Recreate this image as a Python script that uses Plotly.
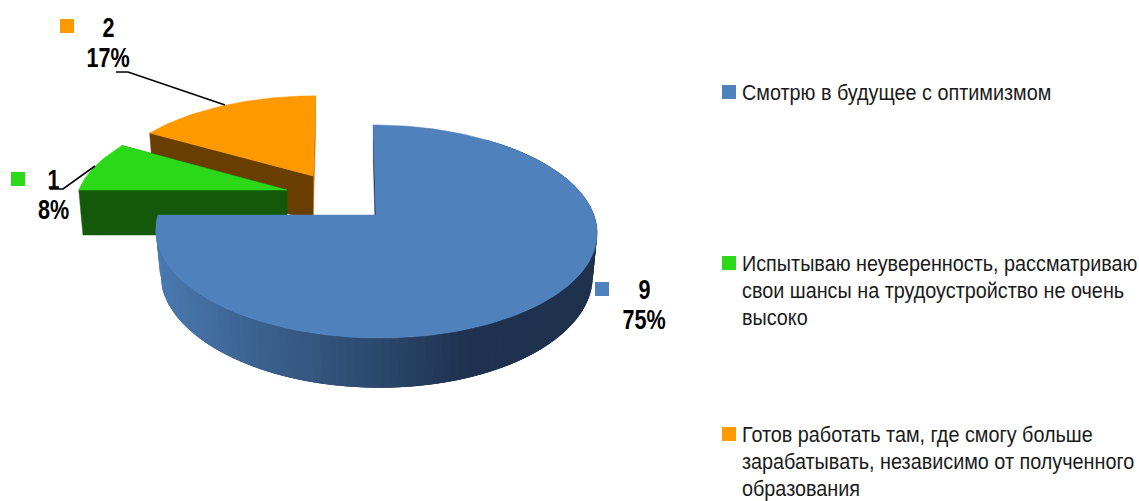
import numpy as np
import plotly.graph_objects as go

categories = [["Смотрю в будущее с оптимизмом"],
              ["Испытываю неуверенность, рассматриваю", "свои шансы на трудоустройство не очень", "высоко"],
              ["Готов работать там, где смогу больше", "зарабатывать, независимо от полученного", "образования"]]
values = [9, 1, 2]
top_colors = ["#4f81bd", "#2cd918", "#ff9900"]
front_wall_colors = ["#1f3350", "#14590a", "#6a3d00"]
back_wall_colors = ["#1f3350", "#14590a", "#c47c08"]

# layout of the drawing (pixel space)
W, H = 1139, 501
apex = [(376, 215), (287, 190), (313, 176)]
scale_x = [1.0, 0.955, 0.94]
scale_y = [1.0, 0.92, 0.89]
depth = [42.0, 45.0, 45.0]
legend_y = [92, 263, 434]
label_box = [(602, 289), (18, 179), (67, 26)]
label_xy = [(644, 290), (53, 180), (108, 28)]
leaders = [None, ([50, 63, 95], [189, 189, 166]), ([116, 128, 225], [72, 72, 105])]
R, h, k = 218.0, 104.0, 0.155
VANISH_X = 345.0
FONT = "Liberation Sans, Arial"
LEGEND_LINE = 27
LABEL_LINE = 30


def proj(f, r, z, i):
    t = 2 * np.pi * np.asarray(f, float)
    X, Y = r * np.sin(t), r * np.cos(t)
    w = 1 + k * Y
    lean = -(apex[i][0] - VANISH_X) * 0.1
    shrink = 1 - 0.02 * z
    sx = apex[i][0] + scale_x[i] * (R * X + lean * Y) / w * shrink
    sy = apex[i][1] + (-scale_y[i] * h * Y + depth[i] * z) / w
    return sx, sy


def poly(fig, xs, ys, color, lw=0.5):
    fig.add_trace(go.Scatter(x=list(xs) + [xs[0]], y=list(ys) + [ys[0]], mode="lines", fill="toself",
                             fillcolor=color, line=dict(color=color, width=lw),
                             hoverinfo="skip", showlegend=False))


def radial_wall(fig, f, i, color):
    a0 = proj(f, 0, 0, i); a1 = proj(f, 1, 0, i)
    b1 = proj(f, 1, 1, i); b0 = proj(f, 0, 1, i)
    poly(fig, [a0[0], a1[0], b1[0], b0[0]], [a0[1], a1[1], b1[1], b0[1]], color)


def lerp_color(stops, x):
    xs = [s[0] for s in stops]
    rgb = [float(np.interp(x, xs, [s[1][c] for s in stops])) for c in range(3)]
    return "rgb(%d,%d,%d)" % tuple(rgb)


wall_stops = [(157, (74, 122, 176)), (270, (58, 96, 141)), (380, (45, 73, 110)), (470, (31, 51, 80)), (600, (30, 50, 78))]

fig = go.Figure()
total = sum(values)
cum = np.cumsum([0] + values) / total
order = [2, 1, 0]
for i in order:
    f0, f1 = cum[i], cum[i + 1]
    fs = np.linspace(f0, f1, int(max(24, (f1 - f0) * 240)))
    if i == 0:
        # curved outer wall, shaded left to right; overlapped segments hide the seams
        wall = np.linspace(f0 + 0.1, f1, 120)
        for j in range(len(wall) - 1):
            seg = wall[j:j + 4]
            ax, ay = proj(seg, 1, 0, i)
            bx, by = proj(seg[::-1], 1, 1, i)
            poly(fig, list(ax) + list(bx), list(ay) + list(by), lerp_color(wall_stops, ax[0]), lw=0)
    radial_wall(fig, f1 if i else f0, i, back_wall_colors[i])
    if i:
        radial_wall(fig, f0, i, front_wall_colors[i])
    sx, sy = proj(fs, 1, 0, i)
    ox, oy = proj(0, 0, 0, i)
    poly(fig, [ox] + list(sx), [oy] + list(sy), top_colors[i])

# leader lines
for ld in leaders:
    if ld:
        fig.add_trace(go.Scatter(x=ld[0], y=ld[1], mode="lines", line=dict(color="black", width=1.6),
                                 hoverinfo="skip", showlegend=False))

# legend and label swatches
fig.add_trace(go.Scatter(x=[729] * 3, y=legend_y, mode="markers",
                         marker=dict(symbol="square", size=14, color=top_colors),
                         hoverinfo="skip", showlegend=False))
fig.add_trace(go.Scatter(x=[p[0] for p in label_box], y=[p[1] for p in label_box], mode="markers",
                         marker=dict(symbol="square", size=14, color=top_colors),
                         hoverinfo="skip", showlegend=False))

anns = []
for i, lines in enumerate(categories):
    for n, line in enumerate(lines):
        anns.append(dict(x=739.5, y=legend_y[i] + n * LEGEND_LINE, text=line, showarrow=False, xanchor="left",
                         yanchor="middle", align="left", font=dict(family=FONT, size=22.5, color="#1a1a1a")))
    pct = round(100 * values[i] / total)
    for n, line in enumerate([str(values[i]), f"{pct}%"]):
        anns.append(dict(x=label_xy[i][0], y=label_xy[i][1] + n * LABEL_LINE, text=f"<b>{line}</b>", showarrow=False,
                         xanchor="center", yanchor="middle", align="center",
                         font=dict(family=FONT, size=27, color="black")))

fig.update_layout(width=W, height=H, margin=dict(l=0, r=0, t=0, b=0), paper_bgcolor="white", plot_bgcolor="white",
                  xaxis=dict(range=[0, W], visible=False, fixedrange=True),
                  yaxis=dict(range=[H, 0], visible=False, fixedrange=True),
                  annotations=anns, showlegend=False)

# the reference uses a narrow face: squeeze the real text horizontally, and drop the page margin
post = """
document.body.style.margin = '0';
document.body.style.overflow = 'hidden';
document.querySelectorAll('.annotation-text').forEach(function (t) {
  var b = t.getBBox();
  var s = (t.textContent.length > 4) ? 0.88 : 0.80;
  var x0 = (t.getAttribute('text-anchor') === 'middle') ? b.x + b.width / 2 : b.x;
  t.setAttribute('transform', 'translate(' + x0 + ',0) scale(' + s + ',1) translate(' + (-x0) + ',0)');
});
"""
fig.write_html("out.html", config=dict(displayModeBar=False), post_script=post)
